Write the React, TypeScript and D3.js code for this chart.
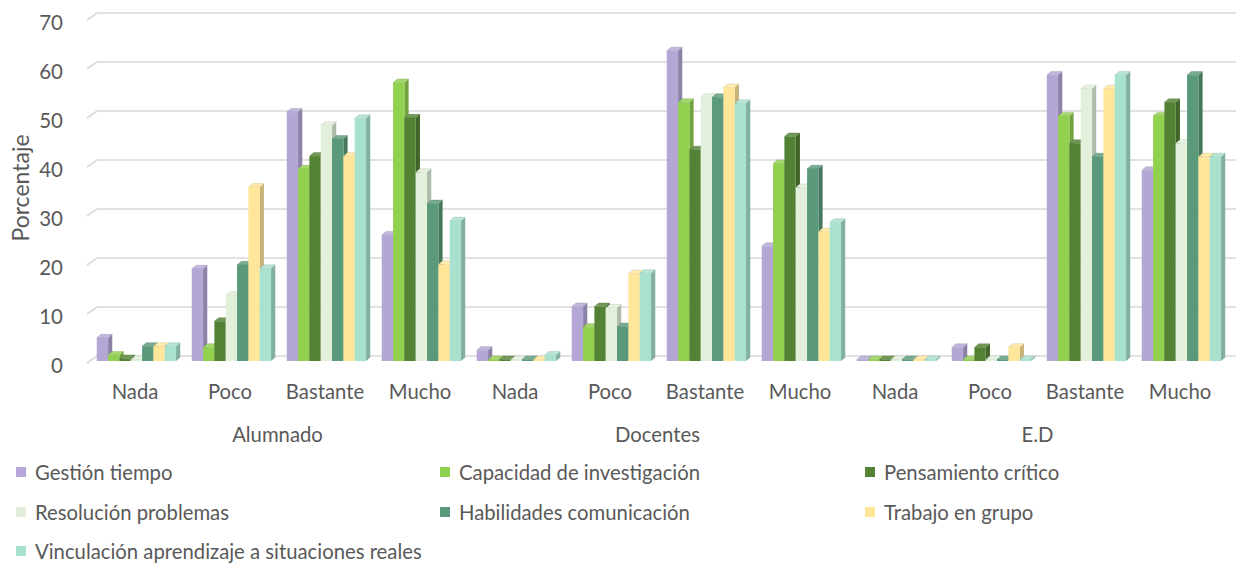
import React from "react";
import * as d3 from "d3";

const groups = ["Alumnado", "Docentes", "E.D"];
const levels = ["Nada", "Poco", "Bastante", "Mucho"];
const seriesNames = [
  "Gestión tiempo",
  "Capacidad de investigación",
  "Pensamiento crítico",
  "Resolución problemas",
  "Habilidades comunicación",
  "Trabajo en grupo",
  "Vinculación aprendizaje a situaciones reales",
];
// order: Alumnado (Nada, Poco, Bastante, Mucho), Docentes (...), E.D (...)
const gestionTiempo = [4.7, 18.8, 50.8, 25.7, 2.2, 11.1, 63.3, 23.4, 0, 2.78, 58.33, 38.89];
const capacidadInvestigacion = [1.2, 2.8, 39.2, 56.8, 0, 6.9, 52.8, 40.3, 0, 0, 50, 50];
const pensamientoCritico = [0.5, 8.1, 41.8, 49.6, 0, 11.1, 43.1, 45.8, 0, 2.78, 44.44, 52.78];
const resolucionProblemas = [0, 13.4, 48.1, 38.5, 0, 10.8, 53.8, 35.4, 0, 0, 55.56, 44.44];
const habilidadesComunicacion = [3.0, 19.6, 45.3, 32.1, 0, 7.0, 53.8, 39.2, 0, 0, 41.67, 58.33];
const trabajoGrupo = [3.0, 35.5, 41.8, 19.7, 0, 17.8, 55.8, 26.4, 0, 2.78, 55.56, 41.67];
const vinculacion = [3.0, 18.9, 49.5, 28.6, 1.2, 17.9, 52.6, 28.3, 0, 0, 58.33, 41.67];
const seriesValues = [
  gestionTiempo,
  capacidadInvestigacion,
  pensamientoCritico,
  resolucionProblemas,
  habilidadesComunicacion,
  trabajoGrupo,
  vinculacion,
];
const yTicks = [0, 10, 20, 30, 40, 50, 60, 70];
const colors = ["#B4A7D6", "#92D050", "#548235", "#E2EFDA", "#5A9A7B", "#FFE699", "#A8E1CE"];

const FONT = "Lato, 'Open Sans', sans-serif";
const TEXT = "#595959";
const FS = 20.3;

export default function App() {
  const W = 1236;
  const H = 566;
  const y = d3.scaleLinear().domain([0, 70]).range([361, 18]);
  const categories = groups.flatMap((g) => levels.map((l) => `${g}|${l}`));
  const x = d3.scaleBand().domain(categories).range([91, 1231]);
  const barW = 11.33;
  const inner = d3.scaleBand().domain(seriesNames).range([0, barW * 7]);
  const dx = 4.2;
  const dy = 3.6;
  const groupOffset = (x.bandwidth() - (barW * 7 + dx)) / 2;

  const bars: React.ReactNode[] = [];
  categories.forEach((cat, ci) => {
    seriesNames.forEach((s, si) => {
      const v = seriesValues[si][ci];
      const x0 = (x(cat) as number) + groupOffset + (inner(s) as number);
      const w = inner.bandwidth();
      const yb = y(0);
      let yt = y(v);
      if (yb - yt < 1.5) yt = yb - 1.5;
      const c = d3.color(colors[si])!;
      const side = c.darker(0.7).formatHex();
      const top = d3.interpolateRgb(colors[si], "#ffffff")(0.18);
      const edge = c.darker(0.9).formatHex();
      bars.push(
        <g key={`${ci}-${si}`}>
          <path
            d={`M${x0 + w},${yb} L${x0 + w + dx},${yb - dy} L${x0 + w + dx},${yt - dy} L${x0 + w},${yt} Z`}
            fill={side}
          />
          <path
            d={`M${x0},${yt} L${x0 + dx},${yt - dy} L${x0 + w + dx},${yt - dy} L${x0 + w},${yt} Z`}
            fill={top}
            stroke={edge}
            strokeWidth={0.5}
            strokeOpacity={0.6}
          />
          <rect x={x0} y={yt} width={w} height={yb - yt} fill={colors[si]} />
        </g>
      );
    });
  });

  const legendCols = [16, 440, 865];
  const legendRows = [472, 512, 551];

  return (
    <svg
      width={W}
      height={H}
      style={{ position: "absolute", left: 0, top: 0, background: "#fff" }}
      fontFamily={FONT}
    >
      {yTicks.map((t) => (
        <path
          key={`g${t}`}
          d={`M87,${y(t) + 2} L97,${y(t) - 5} H${W}`}
          fill="none"
          stroke="#D9D9D9"
          strokeWidth={1.6}
        />
      ))}
      {yTicks.map((t) => (
        <text
          key={`t${t}`}
          x={63}
          y={y(t) + 4}
          textAnchor="end"
          dominantBaseline="central"
          fontSize={20.5}
          fill={TEXT}
        >
          {t}
        </text>
      ))}
      <text
        transform={`translate(20,188) rotate(-90)`}
        textAnchor="middle"
        dominantBaseline="central"
        fontSize={23}
        fill={TEXT}
      >
        Porcentaje
      </text>
      {bars}
      {categories.map((cat, ci) => (
        <text
          key={`c${ci}`}
          x={(x(cat) as number) + x.bandwidth() / 2 - 3.5}
          y={391}
          textAnchor="middle"
          dominantBaseline="central"
          fontSize={FS}
          fill={TEXT}
        >
          {levels[ci % 4]}
        </text>
      ))}
      {groups.map((g, gi) => {
        const first = x(`${g}|${levels[0]}`) as number;
        const last = (x(`${g}|${levels[3]}`) as number) + x.bandwidth();
        return (
          <text
            key={`grp${gi}`}
            x={(first + last) / 2 - 3.5}
            y={434}
            textAnchor="middle"
            dominantBaseline="central"
            fontSize={FS}
            fill={TEXT}
          >
            {g}
          </text>
        );
      })}
      {seriesNames.map((s, si) => {
        const lx = legendCols[si % 3];
        const ly = legendRows[Math.floor(si / 3)];
        return (
          <g key={`l${si}`}>
            <rect x={lx} y={ly - 5} width={10} height={10} fill={colors[si]} />
            <text
              x={lx + 19}
              y={ly}
              dominantBaseline="central"
              fontSize={FS}
              fill={TEXT}
            >
              {s}
            </text>
          </g>
        );
      })}
    </svg>
  );
}
